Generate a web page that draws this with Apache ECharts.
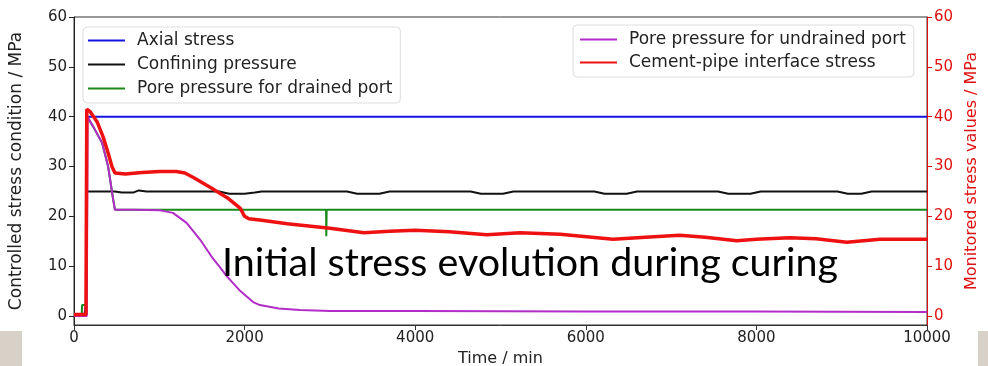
<!DOCTYPE html>
<html>
<head>
<meta charset="utf-8">
<script src="https://cdn.jsdelivr.net/npm/echarts@6/dist/echarts.min.js"></script>
<style>
  html, body { margin: 0; padding: 0; background: #fff; }
  #chart { width: 988px; height: 366px; }
</style>
</head>
<body>
<div id="chart"></div>
<script>
// axis ticks
const timeTicks = [0, 2000, 4000, 6000, 8000, 10000];
const stressTicks = [0, 10, 20, 30, 40, 50, 60];

// Axial stress (left axis)
const axialTime = [0, 120, 140, 148, 152, 10000];
const axialVal = [0, 0, 2.6, 2.6, 40, 40];

// Confining pressure (left axis)
const confTime = [0, 140, 152, 480, 560, 700, 760, 850, 1700, 1820, 2000, 2120, 2200, 3200, 3320, 3580, 3700,
  4650, 4770, 5030, 5150, 6100, 6220, 6480, 6600, 7550, 7670, 7930, 8050, 8950, 9070, 9230, 9350, 10000];
const confVal = [0, 0, 25, 25, 24.8, 24.8, 25.2, 25, 25, 24.55, 24.55, 24.8, 25, 25, 24.55, 24.55, 25,
  25, 24.55, 24.55, 25, 25, 24.55, 24.55, 25, 25, 24.55, 24.55, 25, 25, 24.55, 24.55, 25, 25];

// Pore pressure for drained port (left axis)
const drainTime = [0, 90, 95, 140, 150, 165, 225, 330, 400, 460, 480, 2955, 2958, 2962, 10000];
const drainVal = [0, 0, 2.2, 2.2, 40, 40, 38, 34.7, 30, 23.3, 21.3, 21.3, 16, 21.3, 21.3];

// Pore pressure for undrained port (left axis)
const undrainTime = [0, 150, 160, 225, 330, 400, 460, 480, 700, 1010, 1160, 1320, 1480, 1630, 1710, 1790,
  1950, 2100, 2180, 2400, 2650, 3000, 4000, 6000, 8000, 10000];
const undrainVal = [0, 0, 40, 38, 34.7, 30, 23.3, 21.3, 21.3, 21.2, 20.7, 18.7, 15.3, 11.5, 9.8, 8.0,
  5.0, 2.8, 2.2, 1.5, 1.2, 1.0, 1.0, 0.9, 0.9, 0.8];

// Cement-pipe interface stress (right axis)
const ifaceTime = [0, 140, 150, 190, 270, 340, 400, 445, 480, 600, 800, 1000, 1200, 1300, 1400, 1600, 1800,
  1950, 2000, 2050, 2200, 2500, 3000, 3400, 3700, 4000, 4400, 4840, 5230, 5700, 6320, 6700, 7100, 7400,
  7770, 8000, 8390, 8700, 9060, 9450, 10000];
const ifaceVal = [0.3, 0.3, 41.5, 41, 39, 36, 32.7, 30, 28.7, 28.5, 28.8, 29, 29, 28.7, 27.8, 25.8, 23.7,
  21.6, 20, 19.5, 19.2, 18.5, 17.6, 16.7, 17, 17.2, 16.9, 16.3, 16.7, 16.4, 15.4, 15.8, 16.2, 15.8,
  15.1, 15.4, 15.7, 15.5, 14.8, 15.4, 15.4];

const overlayText = 'Initial stress evolution during curing';

function pairs(ts, vs) {
  return ts.map((t, i) => [t, vs[i]]);
}

const FONT = 'DejaVu Sans';
const RED = '#e01010';

// squeeze the overlay text to the width it has in the slide
const ctx = document.createElement('canvas').getContext('2d');
ctx.font = '38px Lato';
const overlayScale = 616 / ctx.measureText(overlayText).width;

function legendBox(names, left, top, gap, padding) {
  return {
    data: names,
    orient: 'vertical',
    left: left,
    top: top,
    icon: 'rect',
    itemWidth: 37,
    itemHeight: 2,
    itemGap: gap,
    padding: padding,
    borderColor: '#ddd',
    borderWidth: 1,
    borderRadius: 4,
    backgroundColor: 'rgba(255,255,255,0.85)',
    textStyle: { fontFamily: FONT, fontSize: 17, lineHeight: 17, color: '#222', padding: [0, 0, 0, 7] },
  };
}

function stressAxis(name, color, pos, gap, nameSize) {
  return {
    type: 'value',
    position: pos,
    min: -1.8,
    max: 60,
    name: name,
    nameLocation: 'middle',
    nameGap: gap,
    nameTextStyle: { fontFamily: FONT, fontSize: nameSize, color: color },
    axisLine: { show: true, onZero: false, lineStyle: { color: color } },
    axisTick: { show: true, length: 5, customValues: stressTicks, lineStyle: { color: color } },
    axisLabel: { fontFamily: FONT, fontSize: 15, color: color, margin: 7, customValues: stressTicks },
    splitLine: { show: false },
  };
}

const chart = echarts.init(document.getElementById('chart'));
chart.setOption({
  animation: false,
  backgroundColor: '#fff',
  grid: {
    left: 74,
    right: 61,
    top: 17,
    bottom: 41,
    outerBoundsMode: 'none',
    show: true,
    borderColor: '#333',
    borderWidth: 1,
  },
  legend: [
    legendBox(['Axial stress', 'Confining pressure', 'Pore pressure for drained port'], 83, 27, 7, [5, 8, 6, 5]),
    legendBox(['Pore pressure for undrained port', 'Cement-pipe interface stress'], 573, 25, 6, [6, 8, 6, 7]),
  ],
  xAxis: {
    type: 'value',
    min: timeTicks[0],
    max: timeTicks[timeTicks.length - 1],
    interval: 2000,
    name: 'Time / min',
    nameLocation: 'middle',
    nameGap: 24,
    nameTextStyle: { fontFamily: FONT, fontSize: 16, color: '#222' },
    axisLine: { onZero: false, lineStyle: { color: '#333' } },
    axisTick: { inside: false, length: 5, lineStyle: { color: '#333' } },
    axisLabel: { fontFamily: FONT, fontSize: 15, color: '#222', margin: 6, formatter: (v) => String(v) },
    splitLine: { show: false },
  },
  yAxis: [
    stressAxis('Controlled stress condition / MPa', '#222', 'left', 49, 17),
    stressAxis('Monitored stress values / MPa', RED, 'right', 34, 16),
  ],
  series: [
    {
      name: 'Axial stress',
      type: 'line',
      symbol: 'none',
      data: pairs(axialTime, axialVal),
      lineStyle: { color: '#1414e0', width: 2 },
      itemStyle: { color: '#1414e0' },
    },
    {
      name: 'Confining pressure',
      type: 'line',
      symbol: 'none',
      data: pairs(confTime, confVal),
      lineStyle: { color: '#111', width: 2 },
      itemStyle: { color: '#111' },
    },
    {
      name: 'Pore pressure for drained port',
      type: 'line',
      symbol: 'none',
      data: pairs(drainTime, drainVal),
      lineStyle: { color: '#1a8a1a', width: 2 },
      itemStyle: { color: '#1a8a1a' },
    },
    {
      name: 'Pore pressure for undrained port',
      type: 'line',
      symbol: 'none',
      data: pairs(undrainTime, undrainVal),
      lineStyle: { color: '#b22cc8', width: 2 },
      itemStyle: { color: '#b22cc8' },
    },
    {
      name: 'Cement-pipe interface stress',
      type: 'line',
      symbol: 'none',
      yAxisIndex: 1,
      data: pairs(ifaceTime, ifaceVal),
      lineStyle: { color: '#ee1111', width: 3.5 },
      itemStyle: { color: '#ee1111' },
    },
  ],
  graphic: [
    {
      type: 'rect',
      z: -10,
      shape: { x: 0, y: 331, width: 22, height: 35 },
      style: { fill: '#d8d1c7' },
    },
    {
      type: 'rect',
      z: -10,
      shape: { x: 978, y: 331, width: 10, height: 35 },
      style: { fill: '#d8d1c7' },
    },
    {
      type: 'text',
      z: 100,
      x: 222,
      y: 264,
      scaleX: overlayScale,
      style: {
        text: overlayText,
        font: '38px Lato',
        fill: '#000',
        textAlign: 'left',
        textVerticalAlign: 'middle',
      },
    },
  ],
});
</script>
</body>
</html>
